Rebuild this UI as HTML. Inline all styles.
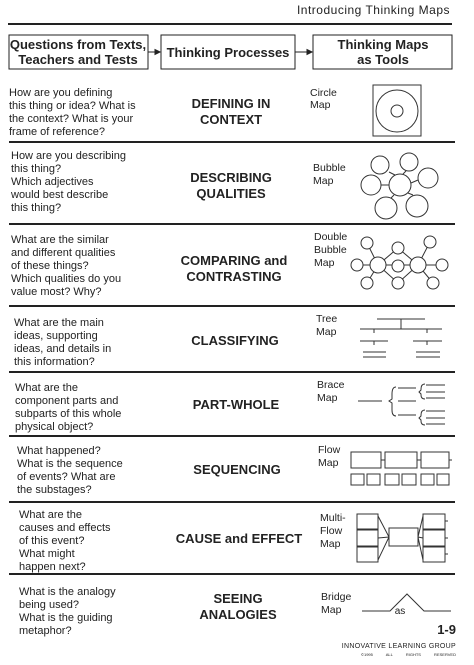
<!DOCTYPE html>
<html><head><meta charset="utf-8"><style>
body{margin:0;background:#fff}
svg{display:block}
text{font-family:"Liberation Sans",sans-serif;fill:#222}
.q{font-size:11px}
.c{font-size:13px;font-weight:bold;text-anchor:middle}
.m{font-size:10.5px}
.h{font-size:13px;font-weight:bold;text-anchor:middle}
</style></head><body>
<svg width="474" height="665" viewBox="0 0 474 665" xmlns="http://www.w3.org/2000/svg">
<text x="450" y="14" style="font-size:12px;text-anchor:end;letter-spacing:.5px">Introducing Thinking Maps</text>
<g fill="none" stroke="#222" stroke-width="1">
<line x1="8" y1="24" x2="452" y2="24" stroke-width="2"/>
<rect x="9" y="35" width="139" height="34"/>
<rect x="161" y="35" width="134" height="34"/>
<rect x="313" y="35" width="139" height="34"/>
<line x1="148" y1="52" x2="160" y2="52"/><polygon points="160,52 155,49.5 155,54.5" fill="#222"/>
<line x1="295" y1="52" x2="312" y2="52"/><polygon points="312,52 307,49.5 307,54.5" fill="#222"/>
</g>
<text class="h" x="78" y="49">Questions from Texts,</text>
<text class="h" x="78" y="64">Teachers and Tests</text>
<text class="h" x="228" y="57">Thinking Processes</text>
<text class="h" x="383" y="49">Thinking Maps</text>
<text class="h" x="383" y="64">as Tools</text>

<g stroke="#222" stroke-width="2">
<line x1="9" y1="142" x2="455" y2="142"/>
<line x1="9" y1="224" x2="455" y2="224"/>
<line x1="9" y1="306" x2="455" y2="306"/>
<line x1="9" y1="372" x2="455" y2="372"/>
<line x1="9" y1="436" x2="455" y2="436"/>
<line x1="9" y1="502" x2="455" y2="502"/>
<line x1="9" y1="574" x2="455" y2="574"/>
</g>

<g class="q">
<text class="q" x="9" y="96">How are you defining</text>
<text class="q" x="9" y="109">this thing or idea? What is</text>
<text class="q" x="9" y="122">the context? What is your</text>
<text class="q" x="9" y="135">frame of reference?</text>

<text class="q" x="11" y="159">How are you describing</text>
<text class="q" x="11" y="172">this thing?</text>
<text class="q" x="11" y="185">Which adjectives</text>
<text class="q" x="11" y="198">would best describe</text>
<text class="q" x="11" y="211">this thing?</text>

<text class="q" x="11" y="243">What are the similar</text>
<text class="q" x="11" y="256">and different qualities</text>
<text class="q" x="11" y="269">of these things?</text>
<text class="q" x="11" y="282">Which qualities do you</text>
<text class="q" x="11" y="295">value most?  Why?</text>

<text class="q" x="14" y="326">What are the main</text>
<text class="q" x="14" y="339">ideas, supporting</text>
<text class="q" x="14" y="352">ideas, and details in</text>
<text class="q" x="14" y="365">this information?</text>

<text class="q" x="15" y="391">What are the</text>
<text class="q" x="15" y="404">component parts and</text>
<text class="q" x="15" y="417">subparts of this whole</text>
<text class="q" x="15" y="430">physical object?</text>

<text class="q" x="17" y="454">What happened?</text>
<text class="q" x="17" y="467">What is the sequence</text>
<text class="q" x="17" y="480">of events? What are</text>
<text class="q" x="17" y="493">the substages?</text>

<text class="q" x="19" y="518">What are the</text>
<text class="q" x="19" y="531">causes and effects</text>
<text class="q" x="19" y="544">of this event?</text>
<text class="q" x="19" y="557">What might</text>
<text class="q" x="19" y="570">happen next?</text>

<text class="q" x="19" y="595">What is the analogy</text>
<text class="q" x="19" y="608">being used?</text>
<text class="q" x="19" y="621">What is the guiding</text>
<text class="q" x="19" y="634">metaphor?</text>
</g>

<text class="c" x="231" y="108">DEFINING IN</text>
<text class="c" x="231" y="124">CONTEXT</text>
<text class="c" x="231" y="182">DESCRIBING</text>
<text class="c" x="231" y="198">QUALITIES</text>
<text class="c" x="234" y="265">COMPARING and</text>
<text class="c" x="234" y="281">CONTRASTING</text>
<text class="c" x="235" y="345">CLASSIFYING</text>
<text class="c" x="236" y="409">PART-WHOLE</text>
<text class="c" x="237" y="474">SEQUENCING</text>
<text class="c" x="239" y="543">CAUSE and EFFECT</text>
<text class="c" x="238" y="603">SEEING</text>
<text class="c" x="238" y="619">ANALOGIES</text>

<text class="m" x="310" y="96">Circle</text><text class="m" x="310" y="108">Map</text>
<text class="m" x="313" y="171">Bubble</text><text class="m" x="313" y="184">Map</text>
<text class="m" x="314" y="240">Double</text><text class="m" x="314" y="253">Bubble</text><text class="m" x="314" y="266">Map</text>
<text class="m" x="316" y="322">Tree</text><text class="m" x="316" y="335">Map</text>
<text class="m" x="317" y="388">Brace</text><text class="m" x="317" y="401">Map</text>
<text class="m" x="318" y="453">Flow</text><text class="m" x="318" y="466">Map</text>
<text class="m" x="320" y="521">Multi-</text><text class="m" x="320" y="534">Flow</text><text class="m" x="320" y="547">Map</text>
<text class="m" x="321" y="600">Bridge</text><text class="m" x="321" y="613">Map</text>

<g fill="none" stroke="#333" stroke-width="1">
<rect x="373" y="85" width="48" height="51"/>
<circle cx="397" cy="111" r="21"/><circle cx="397" cy="111" r="6"/>
<circle cx="400" cy="185" r="11"/>
<circle cx="380" cy="165" r="9"/><circle cx="409" cy="162" r="9"/>
<circle cx="371" cy="185" r="10"/><circle cx="428" cy="178" r="10"/>
<circle cx="386" cy="208" r="11"/><circle cx="417" cy="206" r="11"/>
<path d="M389,172L395,175M406,171L403,174M381,185L389,185M418,180L411,183M391,198L394,195M413,195L408,193"/>
<path d="M357,265L441,265M367,243L378,265L367,283M430,242L418,265L433,283M378,265L398,248L418,265L398,283Z"/>
<g fill="#fff">
<circle cx="378" cy="265" r="8"/><circle cx="418" cy="265" r="8"/><circle cx="398" cy="266" r="6"/>
<circle cx="398" cy="248" r="6"/><circle cx="398" cy="283" r="6"/>
<circle cx="367" cy="243" r="6"/><circle cx="357" cy="265" r="6"/><circle cx="367" cy="283" r="6"/>
<circle cx="430" cy="242" r="6"/><circle cx="442" cy="265" r="6"/><circle cx="433" cy="283" r="6"/>
</g>
<path d="M377,319H425M401,319V329M360,329H442M374,329V333M427,329V333M360,341H388M413,341H442M374,341V345M427,341V345M363,352H386M416,352H440M363,357H386M416,357H440"/>
<path d="M358,401H382M396,387Q392,387 392,394V399L389,401L392,403V410Q392,416 396,416M398,388H416M398,401H416M398,415H416M425,384Q421,384 421,389V390L419,392L421,394V395Q421,399 425,399M425,410Q421,410 421,415V416L419,418L421,420V421Q421,425 425,425M426,385H445M426,392H445M426,398H445M426,411H445M426,418H445M426,424H445"/>
<rect x="351" y="452" width="30" height="16"/><rect x="385" y="452" width="32" height="16"/><rect x="421" y="452" width="28" height="16"/>
<path d="M381,460H385M417,460H421M449,460H452"/>
<rect x="351" y="474" width="13" height="11"/><rect x="367" y="474" width="13" height="11"/>
<rect x="385" y="474" width="14" height="11"/><rect x="402" y="474" width="14" height="11"/>
<rect x="421" y="474" width="13" height="11"/><rect x="437" y="474" width="12" height="11"/>
<rect x="357" y="514" width="21" height="15"/><rect x="357" y="530" width="21" height="16"/><rect x="357" y="547" width="21" height="15"/>
<rect x="389" y="528" width="29" height="18"/>
<rect x="423" y="514" width="22" height="15"/><rect x="423" y="530" width="22" height="16"/><rect x="423" y="547" width="22" height="15"/>
<path d="M378,516L389,537M378,538L389,537M378,560L389,537M418,537L423,516M418,537L423,538M418,537L423,560M445,521H448M445,538H448M445,554H448"/>
<path d="M362,611H390L407,594L424,611H451"/>
</g>
<text x="400" y="614" style="font-size:10px;text-anchor:middle">as</text>
<text x="456" y="634" style="font-size:13px;font-weight:bold;text-anchor:end">1-9</text>
<text x="456" y="648" style="font-size:7px;text-anchor:end;letter-spacing:.3px">INNOVATIVE LEARNING GROUP</text>
<text x="456" y="656" style="font-size:4px;text-anchor:end;word-spacing:12px">©1995 ALL RIGHTS RESERVED</text>
</svg>
</body></html>
